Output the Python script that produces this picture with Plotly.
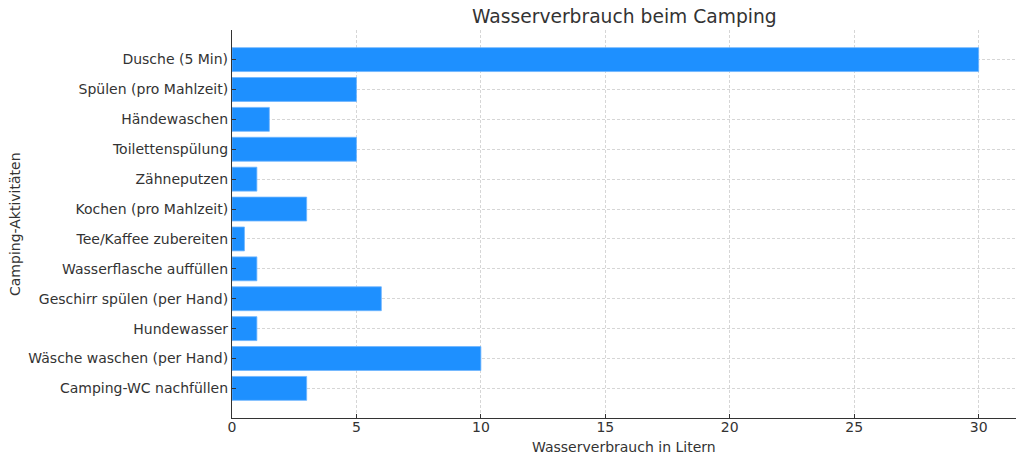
import plotly.graph_objects as go

activities = [
    "Dusche (5 Min)", "Spülen (pro Mahlzeit)", "Händewaschen", "Toilettenspülung",
    "Zähneputzen", "Kochen (pro Mahlzeit)", "Tee/Kaffee zubereiten",
    "Wasserflasche auffüllen", "Geschirr spülen (per Hand)", "Hundewasser",
    "Wäsche waschen (per Hand)", "Camping-WC nachfüllen",
]
liters = [30, 5, 1.5, 5, 1, 3, 0.5, 1, 6, 1, 10, 3]
x_ticks = [0, 5, 10, 15, 20, 25, 30]

fig = go.Figure(go.Bar(
    x=liters, y=activities, orientation="h", width=0.8,
    marker=dict(color="#1E90FF", line=dict(color="#6fb5ff", width=0.8)),
))

font = "DejaVu Sans, sans-serif"
fig.update_layout(
    width=1024, height=464,
    margin=dict(l=232, r=8, t=30, b=46),
    paper_bgcolor="white", plot_bgcolor="white",
    font=dict(family=font, size=14, color="#333333"),
    showlegend=False,
    bargap=0.2,
    annotations=[
        dict(text="Wasserverbrauch beim Camping", xref="paper", yref="paper",
             x=0.5, y=1, yshift=14, xanchor="center", yanchor="middle",
             showarrow=False, font=dict(size=18.7, color="#333333")),
        dict(text="Wasserverbrauch in Litern", xref="paper", yref="paper",
             x=0.5, y=0, yshift=-29, xanchor="center", yanchor="middle",
             showarrow=False, font=dict(size=14, color="#333333")),
        dict(text="Camping-Aktivitäten", xref="paper", yref="paper",
             x=0, xshift=-217, y=0.5, xanchor="center", yanchor="middle",
             textangle=-90, showarrow=False, font=dict(size=14, color="#333333")),
    ],
)
fig.update_xaxes(
    range=[0, 31.5], tickvals=x_ticks, ticks="inside", ticklen=4, tickcolor="#333333",
    showline=True, linecolor="#333333", linewidth=1.2,
    showgrid=True, gridcolor="#d6d6d6", griddash="3px,2px", gridwidth=0.8,
    zeroline=False, layer="above traces", automargin=False,
    ticklabelstandoff=-4,
)
fig.update_yaxes(
    range=[11.99, -0.99], ticks="inside", ticklen=4, tickcolor="#333333",
    showline=True, linecolor="#333333", linewidth=1.2,
    showgrid=True, gridcolor="#d6d6d6", griddash="3px,2px", gridwidth=0.8,
    zeroline=False, layer="above traces", automargin=False, ticklabelstandoff=0,
)
fig.write_html("out.html", config={"displayModeBar": False},
               post_script="document.body.style.margin='0px';")
